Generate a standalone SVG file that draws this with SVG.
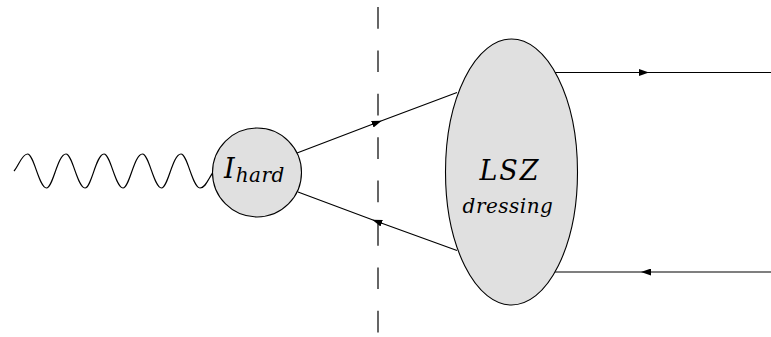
<svg xmlns="http://www.w3.org/2000/svg" width="771" height="337" viewBox="0 0 771 337">
<style>
.ln{fill:none;stroke:#000;stroke-width:1.2}
.blob{fill:#e0e0e0;stroke:#000;stroke-width:1.1}
.mi{font-style:italic;fill:#000}
</style>
<defs>
<marker id="ah" viewBox="0 0 10 7" refX="5" refY="3.5" markerWidth="10" markerHeight="7" markerUnits="userSpaceOnUse" orient="auto">
<path d="M0,0 L10,3.5 L0,7 z" fill="#000"/>
</marker>
</defs>
<g id="cut">
<line x1="378" y1="7" x2="378" y2="337" stroke="#000" stroke-width="1.2" stroke-dasharray="21.7 21.7"/>
</g>
<g id="connectors">
<path id="photon" class="ln" d="M14,171 C18.5,166 22,154 27.5,154 C34,154 39,188 46.5,188 C53,188 57.5,154 66,154 C72.5,154 77.5,188 85,188 C91.5,188 96,154 104,154 C110.5,154 115.5,188 123,188 C129.5,188 134,154 142.5,154 C149,154 154,188 161.5,188 C168,188 172.5,154 181,154 C187.5,154 192.5,188 200,188 C206,188 209,177 214,171"/>
<path class="ln" d="M297,153 L377,122.5 L457,92.5" marker-mid="url(#ah)"/>
<path class="ln" d="M457,250.5 L377,221.5 L298,192" marker-mid="url(#ah)"/>
<path class="ln" d="M555,72.5 L644,72.5 L771,72.5" marker-mid="url(#ah)"/>
<path class="ln" d="M771,272 L646,272 L555,272" marker-mid="url(#ah)"/>
</g>
<g id="hard">
<circle class="blob" cx="257" cy="172.5" r="44.5"/>
<text class="mi" font-family="'DejaVu Serif', serif" x="224" y="178" font-size="27">I<tspan font-size="20" dy="4" dx="1" letter-spacing="0.5">hard</tspan></text>
</g>
<g id="lsz">
<ellipse class="blob" cx="511.5" cy="172" rx="66" ry="133"/>
<text class="mi" font-family="'DejaVu Serif', serif" x="510" y="180" font-size="27" text-anchor="middle" letter-spacing="2">LSZ</text>
<text class="mi" font-family="'DejaVu Serif', serif" x="508" y="213" font-size="20" text-anchor="middle" letter-spacing="0.5">dressing</text>
</g>
</svg>
